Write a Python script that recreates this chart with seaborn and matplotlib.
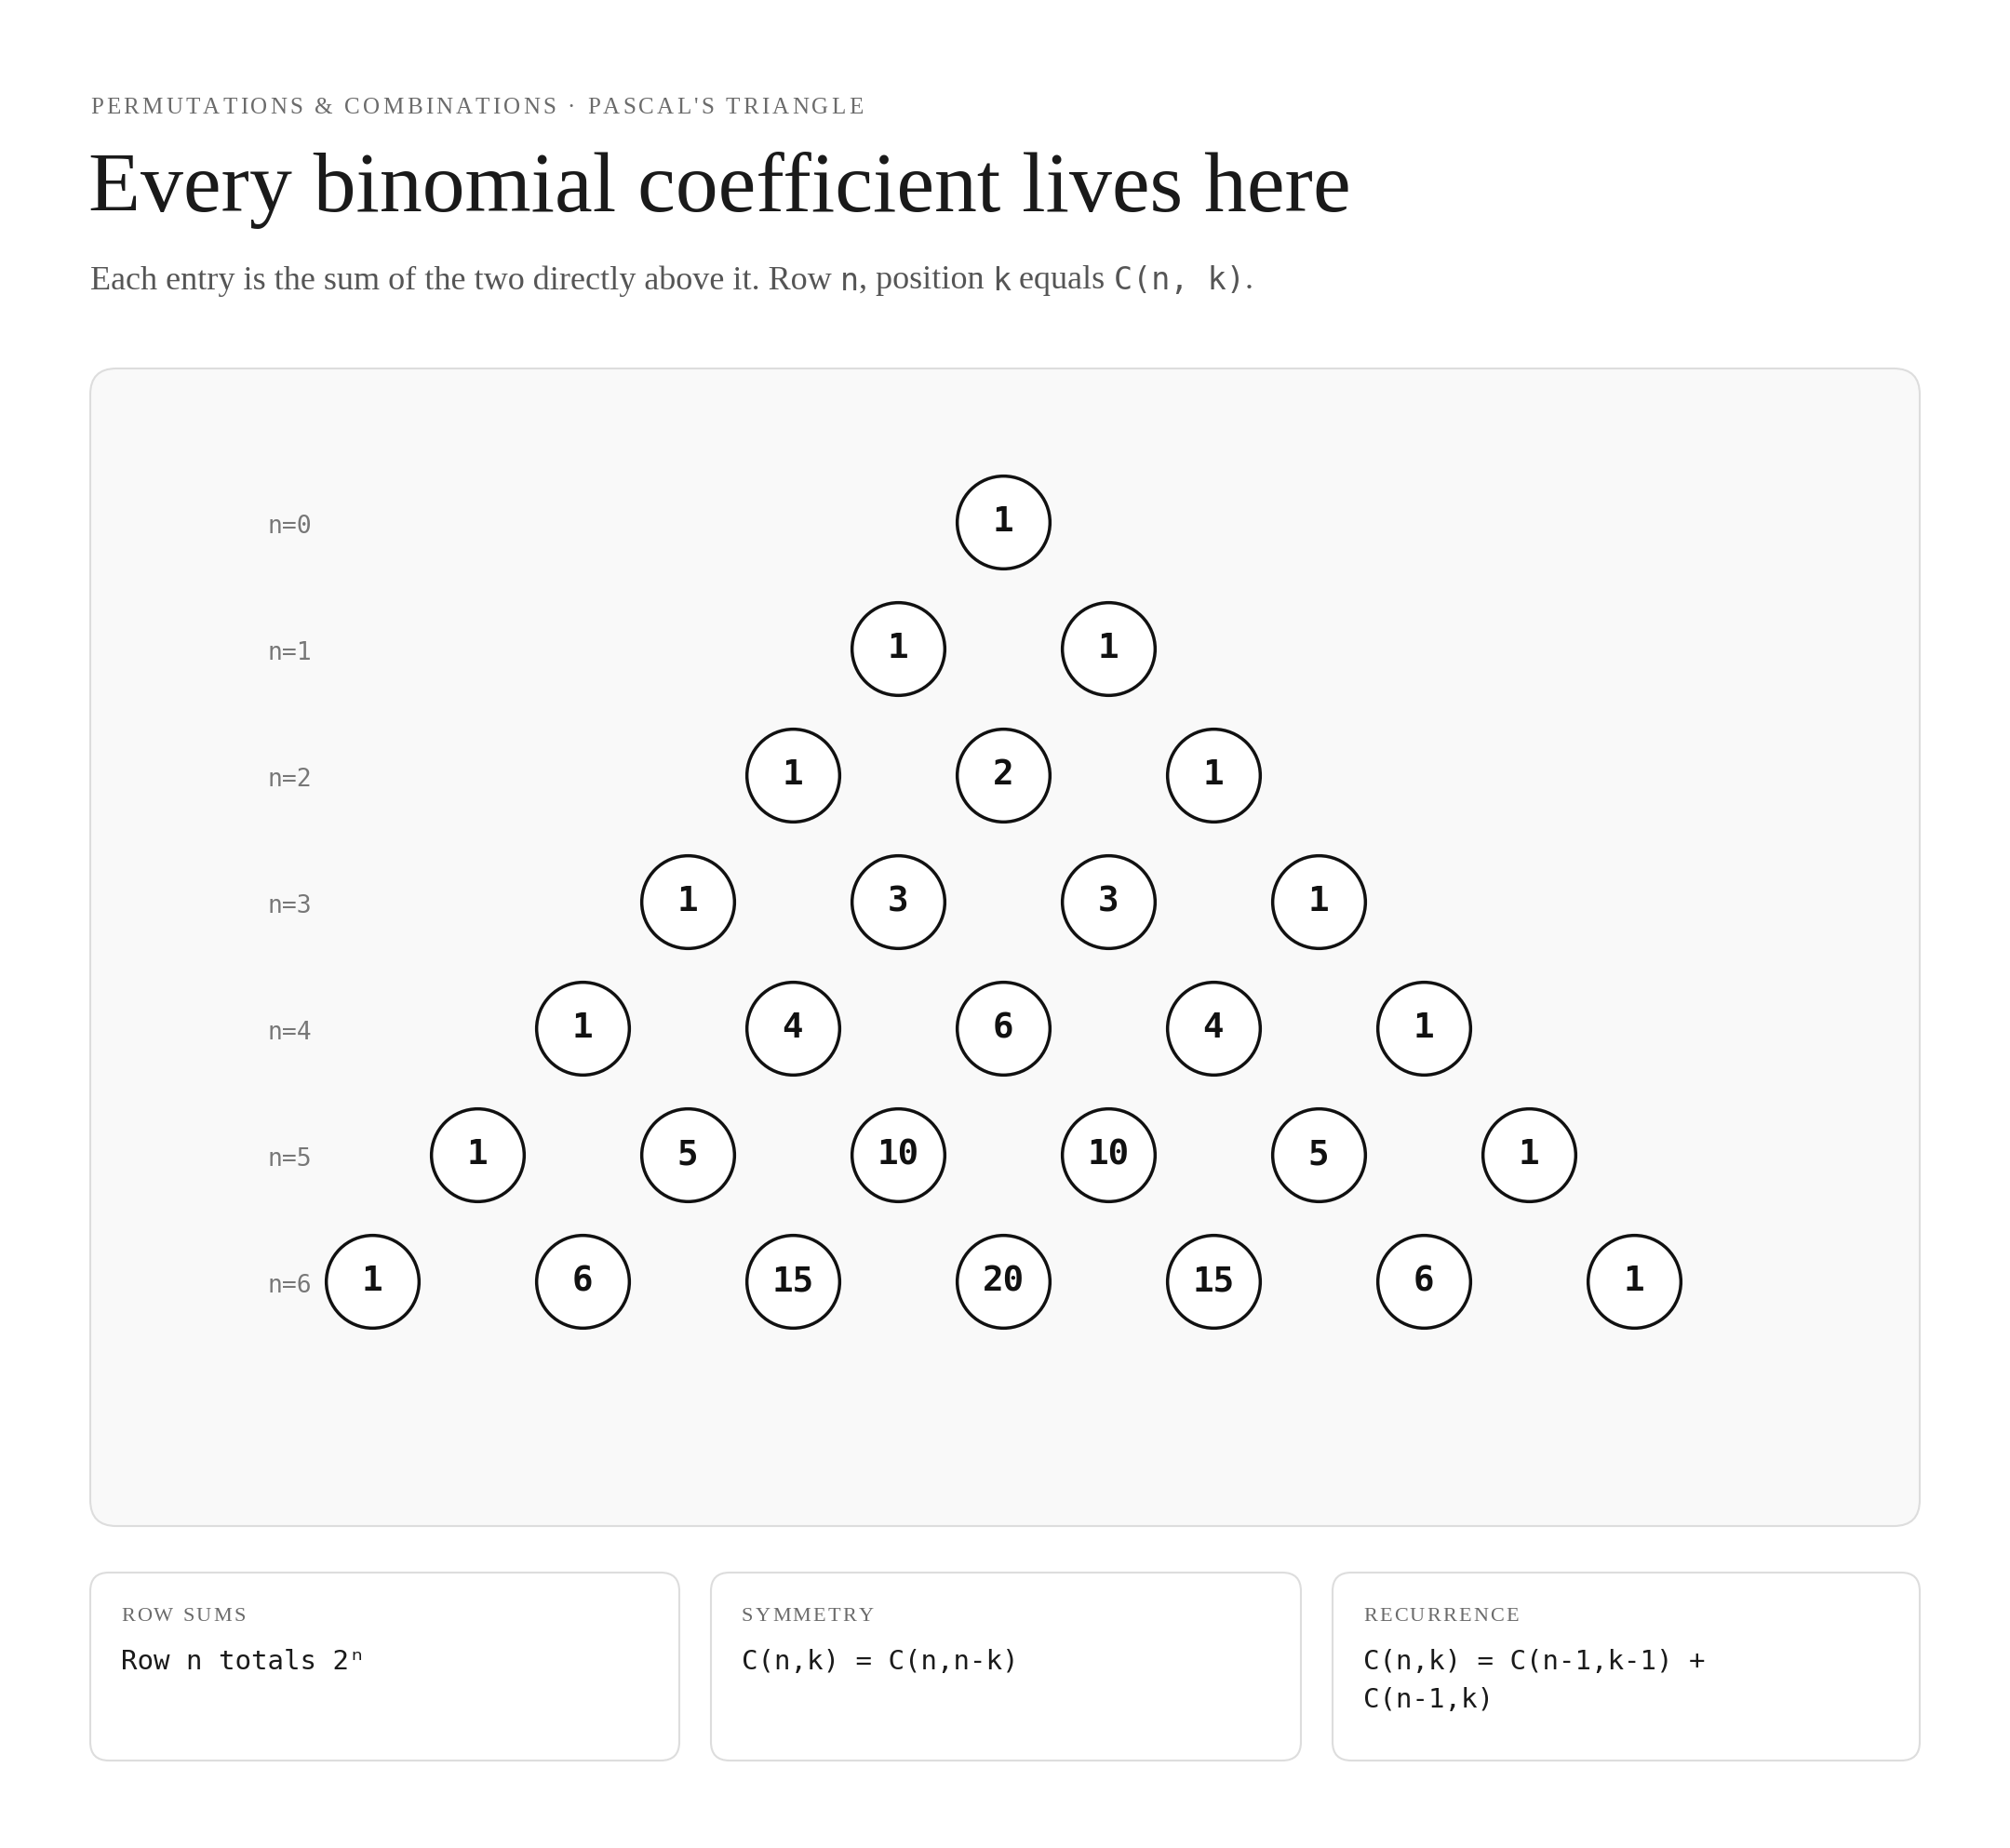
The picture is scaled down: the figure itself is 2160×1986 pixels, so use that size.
import matplotlib
matplotlib.use("Agg")
import matplotlib.pyplot as plt
from matplotlib.patches import FancyBboxPatch
import pandas as pd
import seaborn as sns
from math import comb

sns.set_theme(style="white")

# data
rows = [0, 1, 2, 3, 4, 5, 6]
row_labels = [f"n={n}" for n in rows]
values = [[comb(n, k) for k in range(n + 1)] for n in rows]
card_titles = ["ROW SUMS", "SYMMETRY", "RECURRENCE"]
card_texts = ["Row n totals 2ⁿ", "C(n,k) = C(n,n-k)", "C(n,k) = C(n-1,k-1) +\nC(n-1,k)"]

df = pd.DataFrame(
    [{"x": k - n / 2, "n": n, "v": v} for n in rows for k, v in enumerate(values[n])]
)

W, H = 2160, 1986
fig = plt.figure(figsize=(W / 100, H / 100), dpi=100)
fig.patch.set_facecolor("white")

SERIF = ["Liberation Serif", "DejaVu Serif"]
MONO = ["DejaVu Sans Mono"]

# background layer in pixel coordinates
bg = fig.add_axes([0, 0, 1, 1])
bg.set_xlim(0, W)
bg.set_ylim(H, 0)
bg.axis("off")

fig.canvas.draw()
r = fig.canvas.get_renderer()


def spaced(x, y, s, size, color, gap):
    # letter-spaced small caps style label
    for ch in s:
        t = bg.text(x, y, ch, family=SERIF, fontsize=size, color=color, va="center")
        x += t.get_window_extent(r).width + gap


spaced(97, 116, "PERMUTATIONS & COMBINATIONS · PASCAL'S TRIANGLE", 18, "#6b6b6b", 3.2)
bg.text(95, 205, "Every binomial coefficient lives here", family=SERIF,
        fontsize=66, color="#1a1a1a", va="center")

# subtitle with mixed fonts
pieces = [("Each entry is the sum of the two directly above it. Row ", SERIF),
          ("n", MONO), (", position ", SERIF), ("k", MONO), (" equals ", SERIF),
          ("C(n, k)", MONO), (".", SERIF)]
x = 97
for s, fam in pieces:
    t = bg.text(x, 302, s, family=fam, fontsize=26 if fam is SERIF else 24,
                color="#555555", va="center")
    x += t.get_window_extent(r).width

# main panel
bg.add_patch(FancyBboxPatch((97, 396), 1966, 1244, boxstyle="round,pad=0,rounding_size=28",
                            facecolor="#f9f9f9", edgecolor="#dddddd", linewidth=1.5))

# cards
card_x = [(97, 730), (764, 1398), (1432, 2063)]
for (x0, x1), title, txt in zip(card_x, card_titles, card_texts):
    bg.add_patch(FancyBboxPatch((x0, 1690), x1 - x0, 202, boxstyle="round,pad=0,rounding_size=20",
                                facecolor="white", edgecolor="#dddddd", linewidth=1.5))
    spaced(x0 + 33, 1738, title, 16, "#6b6b6b", 2.2)
    bg.text(x0 + 33, 1772, txt, family=MONO, fontsize=21, color="#1a1a1a", va="top",
            linespacing=1.6)

# triangle
ax = fig.add_axes([174 / W, 1 - 1513 / H, 1808 / W, 1088 / H])
ax.set_xlim(-4, 4)
ax.set_ylim(7, -1)
ax.axis("off")
sns.scatterplot(data=df, x="x", y="n", s=5150, color="white", edgecolor="#111111",
                linewidth=2.5, ax=ax, legend=False, zorder=3)
for _, row in df.iterrows():
    ax.text(row["x"], row["n"], str(int(row["v"])), family=MONO, fontsize=27, fontweight="bold",
            color="#111111", ha="center", va="center", zorder=4)
for n, lab in zip(rows, row_labels):
    ax.text(-3.5, n + 0.04, lab, family=MONO, fontsize=19, color="#777777",
            ha="left", va="center", zorder=2)

fig.savefig("out.png", dpi=100, facecolor="white")
